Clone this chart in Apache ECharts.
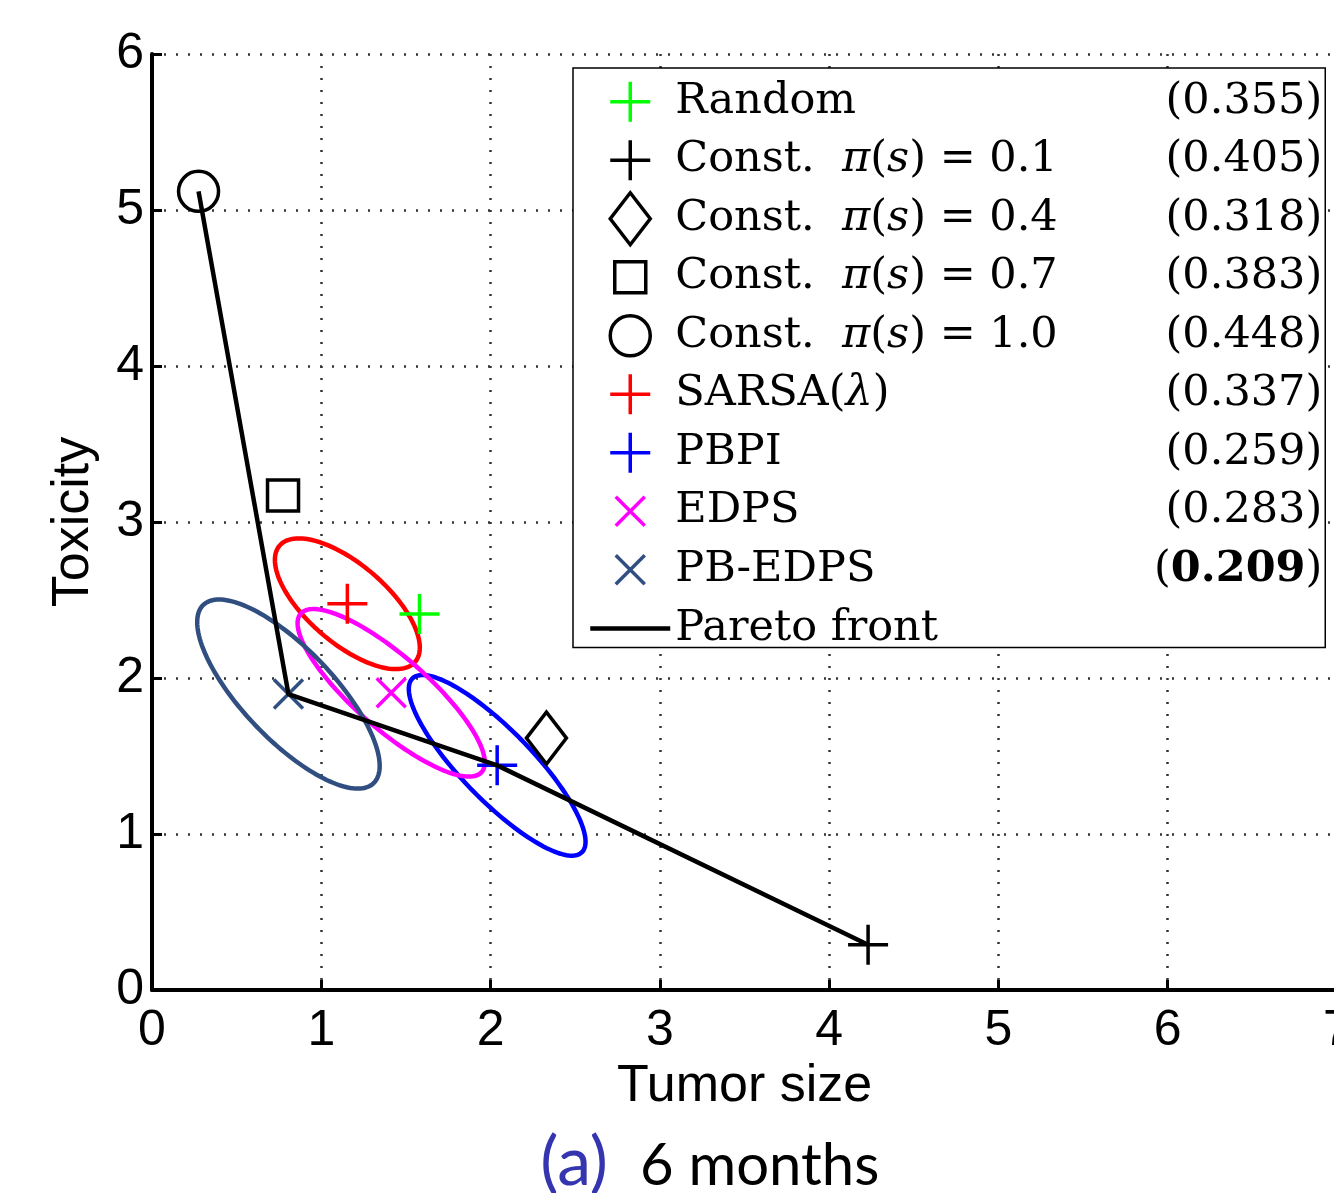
<!DOCTYPE html>
<html>
<head>
<meta charset="utf-8">
<script src="https://cdn.jsdelivr.net/npm/echarts@6/dist/echarts.min.js"></script>
<style>
  html, body { margin: 0; padding: 0; background: #fff; }
  #chart { width: 1334px; height: 1193px; }
</style>
</head>
<body>
<div id="chart"></div>
<script>
// ---------- data ----------
const methodNames = ['Random', 'Const. π(s) = 0.1', 'Const. π(s) = 0.4', 'Const. π(s) = 0.7',
  'Const. π(s) = 1.0', 'SARSA(λ)', 'PBPI', 'EDPS', 'PB-EDPS'];
const methodScores = ['0.355', '0.405', '0.318', '0.383', '0.448', '0.337', '0.259', '0.283', '0.209'];
const bestScore = '0.209';
const methodColors = ['#00FF00', '#000000', '#000000', '#000000', '#000000', '#FF0000', '#0000FF', '#FF00FF', '#304F80'];
const methodMarkers = ['plus', 'plus', 'diamond', 'square', 'circle', 'plus', 'plus', 'cross', 'cross'];
const tumorSize = [1.58, 4.23, 2.33, 0.774, 0.275, 1.154, 2.039, 1.413, 0.806];
const toxicity  = [2.41, 0.29, 1.615, 3.17, 5.12, 2.476, 1.44, 1.905, 1.897];

// spread ellipses (std. dev. in tumor size, std. dev. in toxicity, correlation)
const ellipseMethods = ['SARSA(λ)', 'PBPI', 'EDPS', 'PB-EDPS'];
const ellipseSdTumor = [0.428, 0.522, 0.553, 0.539];
const ellipseSdTox   = [0.419, 0.579, 0.537, 0.606];
const ellipseCorr    = [-0.67, -0.845, -0.83, -0.76];

// Pareto front goes through these methods
const paretoMethods = ['Const. π(s) = 1.0', 'PB-EDPS', 'PBPI', 'Const. π(s) = 0.1'];
const paretoLabel = 'Pareto front';

const xTicks = [0, 1, 2, 3, 4, 5, 6, 7];
const yTicks = [0, 1, 2, 3, 4, 5, 6];
const xTitle = 'Tumor size';
const yTitle = 'Toxicity';
const captionTag = '(a)';
const captionText = '6 months';

// ---------- marker shapes (with a common 54x54 frame) ----------
const SYM = {
  plus: 'path://M0,0M54,54M7,27L47,27M27,7L27,47',
  diamond: 'path://M0,0M54,54M27,1L47,27L27,53L7,27Z',
  square: 'path://M0,0M54,54M11.5,11.5L42.5,11.5L42.5,42.5L11.5,42.5Z',
  circle: 'path://M0,0M54,54M7,27A20,20,0,1,1,47,27A20,20,0,1,1,7,27Z',
  cross: 'path://M0,0M54,54M12.5,12.5L41.5,41.5M41.5,12.5L12.5,41.5'
};

const idx = n => methodNames.indexOf(n);
const series = [];

// ellipses
ellipseMethods.forEach((m, k) => {
  const i = idx(m);
  series.push({
    type: 'custom',
    name: m + ' spread',
    coordinateSystem: 'cartesian2d',
    encode: { x: 0, y: 1 },
    z: 2,
    silent: true,
    data: [[tumorSize[i], toxicity[i], ellipseSdTumor[k], ellipseSdTox[k], ellipseCorr[k]]],
    renderItem: function (params, api) {
      const cx = api.value(0), cy = api.value(1), sx = api.value(2), sy = api.value(3), r = api.value(4);
      const q = Math.sqrt(1 - r * r);
      const pts = [];
      const N = 160;
      for (let j = 0; j <= N; j++) {
        const t = 2 * Math.PI * j / N;
        pts.push(api.coord([cx + sx * Math.cos(t), cy + sy * (r * Math.cos(t) + q * Math.sin(t))]));
      }
      return { type: 'polygon', shape: { points: pts },
        style: { fill: 'none', stroke: methodColors[i], lineWidth: 4.5 } };
    }
  });
});

// markers
methodNames.forEach((m, i) => {
  series.push({
    type: 'scatter',
    name: m,
    z: 3,
    symbol: SYM[methodMarkers[i]],
    symbolSize: 54,
    itemStyle: { color: 'rgba(0,0,0,0)', borderColor: methodColors[i], borderWidth: 3.5, opacity: 1 },
    emphasis: { disabled: true },
    data: [[tumorSize[i], toxicity[i]]]
  });
});

// Pareto front
series.push({
  type: 'line',
  name: paretoLabel,
  z: 4,
  symbol: 'none',
  lineStyle: { color: '#000', width: 4.5 },
  itemStyle: { color: 'rgba(0,0,0,0)', borderWidth: 0 },
  emphasis: { disabled: true },
  data: paretoMethods.map(m => [tumorSize[idx(m)], toxicity[idx(m)]])
});

// ---------- legend ----------
const legendFont = 'DejaVu Serif';
const LFS = 43;
const legendData = methodNames.map((m, i) => ({
  name: m,
  icon: SYM[methodMarkers[i]],
  itemStyle: { color: 'rgba(0,0,0,0)', borderColor: methodColors[i], borderWidth: 3.5 }
}));
legendData.push({ name: paretoLabel,
  itemStyle: { color: 'rgba(0,0,0,0)', borderColor: 'rgba(0,0,0,0)', borderWidth: 0 },
  lineStyle: { color: '#000', width: 4.5 } });

function legendLabel(name) {
  const i = methodNames.indexOf(name);
  if (i < 0) return '{p|' + name + '}';
  let left;
  const m = name.match(/^Const\. π\(s\) = (.*)$/);
  if (m) left = '{r|Const.  }{i|π}{r|(}{i|s}{r|) = ' + m[1] + '}';
  else if (name === 'SARSA(λ)') left = '{r|SARSA(}{i|λ}{r|)}';
  else left = '{r|' + name + '}';
  const s = methodScores[i];
  if (s === bestScore) return left + '{v|(}{vb|' + s + '}{v|)}';
  return left + '{v|(' + s + ')}';
}

const tokenBase = { fontFamily: legendFont, fontSize: LFS, color: '#000', lineHeight: 50 };

const option = {
  animation: false,
  backgroundColor: '#fff',
  grid: { left: 152, top: 54, width: 1185, height: 936, containLabel: false, outerBoundsMode: 'none' },
  xAxis: {
    type: 'value', min: xTicks[0], max: xTicks[xTicks.length - 1], interval: 1,
    name: xTitle, nameLocation: 'middle', nameGap: 54,
    nameTextStyle: { fontFamily: 'Liberation Sans', fontSize: 52, color: '#000' },
    axisLine: { show: true, onZero: false, lineStyle: { color: '#000', width: 4 } },
    axisTick: { show: true, inside: true, length: 10, lineStyle: { color: '#000', width: 3 } },
    axisLabel: { fontFamily: 'Liberation Sans', fontSize: 50, color: '#000', margin: 16 },
    splitLine: { show: true, lineStyle: { color: '#333', width: 2.5, type: [2, 10] } }
  },
  yAxis: {
    type: 'value', min: yTicks[0], max: yTicks[yTicks.length - 1], interval: 1,
    name: yTitle, nameLocation: 'middle', nameGap: 52, nameRotate: 90,
    nameTextStyle: { fontFamily: 'Liberation Sans', fontSize: 52, color: '#000' },
    axisLine: { show: true, onZero: false, lineStyle: { color: '#000', width: 4 } },
    axisTick: { show: true, inside: true, length: 10, lineStyle: { color: '#000', width: 3 } },
    axisLabel: { fontFamily: 'Liberation Sans', fontSize: 50, color: '#000', margin: 8 },
    splitLine: { show: true, lineStyle: { color: '#333', width: 2.5, type: [2, 10] } }
  },
  legend: {
    orient: 'vertical',
    left: 573, top: 68,
    padding: [5, 3, -10, 15],
    itemWidth: 80, itemHeight: 54, itemGap: 1.0,
    backgroundColor: '#fff',
    borderColor: '#000', borderWidth: 1.5,
    selectedMode: false,
    data: legendData,
    formatter: legendLabel,
    textStyle: {
      width: 647,
      fontFamily: legendFont, fontSize: LFS, color: '#000', lineHeight: 50,
      rich: {
        r: Object.assign({}, tokenBase),
        p: Object.assign({}, tokenBase, { lineHeight: 58 }),
        i: Object.assign({ fontStyle: 'italic' }, tokenBase),
        v: Object.assign({ align: 'right' }, tokenBase),
        vb: Object.assign({ align: 'right', fontWeight: 'bold' }, tokenBase)
      }
    }
  },
  graphic: [
    { type: 'text', z: 10, style: { text: captionTag, x: 608, y: 1163, align: 'right', verticalAlign: 'middle',
        font: '68px Lato', fill: '#3535B0' } },
    { type: 'text', z: 10, style: { text: captionText, x: 640, y: 1166, align: 'left', verticalAlign: 'middle',
        font: '58px Lato', fill: '#000' } }
  ],
  series: series
};

const chart = echarts.init(document.getElementById('chart'), null, { renderer: 'canvas' });
chart.setOption(option);
</script>
</body>
</html>
